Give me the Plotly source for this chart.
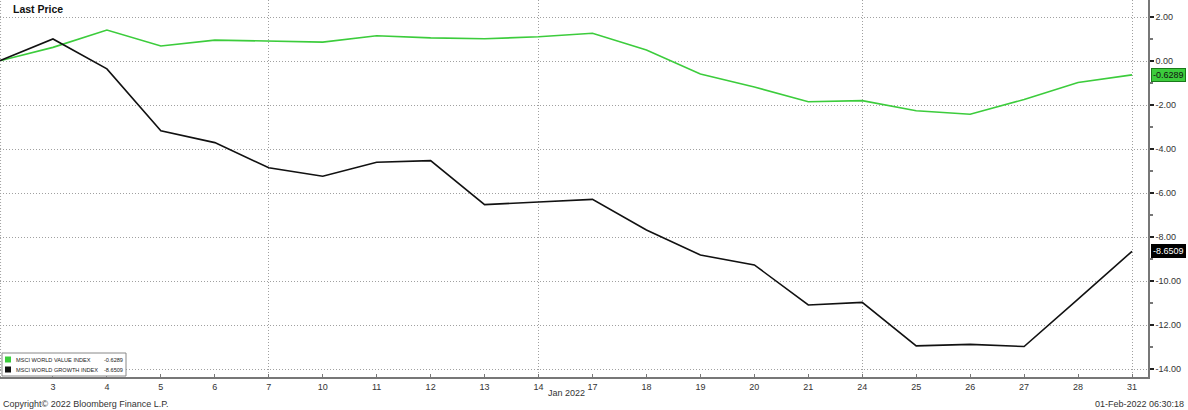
import plotly.graph_objects as go

# ---- data ----
day_labels = ["", "3", "4", "5", "6", "7", "10", "11", "12", "13", "14",
              "17", "18", "19", "20", "21", "24", "25", "26", "27", "28", "31"]
value_index = [0.0, 0.62, 1.41, 0.68, 0.95, 0.92, 0.86, 1.15, 1.05, 1.01, 1.10,
               1.26, 0.50, -0.59, -1.18, -1.85, -1.80, -2.26, -2.42, -1.75, -0.98, -0.6289]
growth_index = [0.0, 1.0, -0.36, -3.17, -3.71, -4.85, -5.24, -4.60, -4.53, -6.53, -6.41,
                -6.29, -7.68, -8.82, -9.27, -11.09, -10.97, -12.95, -12.88, -12.98, -10.82, -8.6509]
value_name = "MSCI WORLD VALUE INDEX"
growth_name = "MSCI WORLD GROWTH INDEX"
y_ticks = [2, 0, -2, -4, -6, -8, -10, -12, -14]
week_grid_labels = ["7", "14", "24", "31"]

GREEN = "#3ccc3c"
BLACK = "#111111"
FONT = "Liberation Sans"
GRID = "#a0a0a0"
DOT = "1px,2px"

xs = list(range(len(day_labels)))
W, H = 1188, 410
L, R, T, B = 0, 40, 0, 33
plot_w = W - L - R
plot_h = H - T - B

fig = go.Figure()
fig.add_trace(go.Scatter(x=xs, y=value_index, mode="lines", name=value_name,
                         line=dict(color=GREEN, width=1.6), showlegend=False))
fig.add_trace(go.Scatter(x=xs, y=growth_index, mode="lines", name=growth_name,
                         line=dict(color=BLACK, width=1.6), showlegend=False))

xr = [1 / 54, 21 + 16 / 54]
week_idx = [day_labels.index(d) for d in week_grid_labels]

fig.update_layout(
    template="none",
    width=W, height=H,
    margin=dict(l=L, r=R, t=T, b=B, autoexpand=False),
    paper_bgcolor="white", plot_bgcolor="white",
    font=dict(family=FONT, size=9, color="#222"),
    xaxis=dict(
        range=xr, tickmode="array", tickvals=xs[1:], ticktext=day_labels[1:],
        showgrid=False, showline=True, linecolor="#777", linewidth=1.5,
        ticks="inside", ticklen=3, tickcolor="#777", zeroline=False, automargin=False,
        tickfont=dict(size=9, color="#333"),
    ),
    xaxis2=dict(
        range=xr, overlaying="x", tickmode="array", tickvals=week_idx,
        showticklabels=False, showgrid=True, gridcolor=GRID, griddash=DOT,
        gridwidth=1, zeroline=False, showline=False, ticks="", automargin=False,
    ),
    yaxis=dict(
        side="right", range=[-(377 - 61) / 22, 2 + 17 / 22], autorange=False,
        tickmode="array", tickvals=y_ticks, ticktext=[f"{v:.2f}" for v in y_ticks],
        showgrid=True, gridcolor=GRID, griddash=DOT, gridwidth=1,
        showline=True, linecolor="#777", linewidth=1.5, zeroline=False, automargin=False,
        ticks="outside", ticklen=4, tickwidth=2, tickcolor="#222",
        minor=dict(dtick=1, ticklen=3, tickcolor="#777", ticks="outside", showgrid=False),
        tickfont=dict(size=9, color="#333"),
    ),
)

# invisible trace to activate xaxis2 gridlines
fig.add_trace(go.Scatter(x=[xs[0]], y=[None], xaxis="x2", showlegend=False, hoverinfo="skip"))

# left border dotted
fig.add_shape(type="line", xref="paper", yref="paper", x0=0.0005, x1=0.0005, y0=0, y1=1,
              line=dict(color=GRID, width=1, dash=DOT))

ann = []
# title
ann.append(dict(text="<b>Last Price</b>", xref="paper", yref="paper",
                x=11 / plot_w, y=1 - 9 / plot_h, xanchor="left", yanchor="middle",
                showarrow=False, font=dict(size=10.5, color="#111", family=FONT)))
# right tags
ann.append(dict(text=f"{value_index[-1]:.4f}", xref="paper", yref="y",
                x=1 + 3 / plot_w, y=value_index[-1], xanchor="left", yanchor="middle",
                showarrow=False, bgcolor=GREEN, bordercolor="#1a7a1a", borderwidth=1,
                borderpad=1, font=dict(size=9, color="#111", family=FONT)))
ann.append(dict(text=f"{growth_index[-1]:.4f}", xref="paper", yref="y",
                x=1 + 3 / plot_w, y=growth_index[-1], xanchor="left", yanchor="middle",
                showarrow=False, bgcolor="#000", bordercolor="#000", borderwidth=1,
                borderpad=1, font=dict(size=9, color="white", family=FONT)))
# x-axis title
ann.append(dict(text="Jan 2022", xref="paper", yref="paper", x=566 / plot_w,
                y=-(393 - 377) / plot_h, xanchor="center", yanchor="middle",
                showarrow=False, font=dict(size=9, color="#333", family=FONT)))
# footer
ann.append(dict(text="Copyright© 2022 Bloomberg Finance L.P.", xref="paper", yref="paper",
                x=1 / plot_w, y=-(404 - 377) / plot_h, xanchor="left", yanchor="middle",
                showarrow=False, font=dict(size=9, color="#333", family=FONT)))
ann.append(dict(text="01-Feb-2022 06:30:18", xref="paper", yref="paper",
                x=(W - 2) / plot_w, y=-(404 - 377) / plot_h, xanchor="right", yanchor="middle",
                showarrow=False, font=dict(size=9, color="#333", family=FONT)))

# legend box
fig.add_shape(type="rect", xref="paper", yref="paper",
              x0=2 / plot_w, x1=126 / plot_w, y0=(377 - 376) / plot_h, y1=(377 - 353) / plot_h,
              fillcolor="white", line=dict(color="#888", width=1), layer="above")
for i, (nm, val, col) in enumerate([(value_name, value_index[-1], GREEN),
                                    (growth_name, growth_index[-1], BLACK)]):
    py = 359.5 + i * 10
    yp = (377 - py) / plot_h
    fig.add_shape(type="rect", xref="paper", yref="paper",
                  x0=5 / plot_w, x1=11 / plot_w, y0=(377 - py - 3) / plot_h, y1=(377 - py + 3) / plot_h,
                  fillcolor=col, line=dict(width=0), layer="above")
    ann.append(dict(text=nm, xref="paper", yref="paper", x=14 / plot_w, y=yp,
                    xanchor="left", yanchor="middle", showarrow=False,
                    font=dict(size=5.6, color="#222", family=FONT)))
    ann.append(dict(text=f"{val:.4f}", xref="paper", yref="paper", x=125 / plot_w, y=yp,
                    xanchor="right", yanchor="middle", showarrow=False,
                    font=dict(size=5.6, color="#222", family=FONT)))

fig.update_layout(annotations=ann)
fig.write_html(
    "out.html",
    config={"displayModeBar": False},
    post_script="document.body.style.margin='0';document.body.style.overflow='hidden';",
)
